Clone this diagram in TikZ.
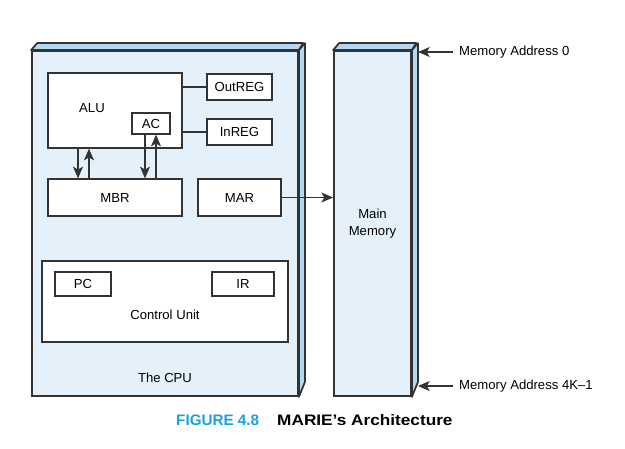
\documentclass[tikz,border=0pt]{standalone}
\usepackage{fontspec}
\setmainfont{Liberation Sans}
\usepackage{xcolor}
\usepackage{graphicx}
\usetikzlibrary{arrows.meta, positioning}

\definecolor{faceblue}{HTML}{E4F1FB}
\definecolor{sideblue}{HTML}{B3D8F3}
\definecolor{edgegray}{HTML}{333333}
\definecolor{figblue}{HTML}{1BA1E2}

\tikzset{
  reg/.style={draw=edgegray, line width=1.1pt, fill=white, inner sep=0pt},
  shell/.style={draw=edgegray, line width=1.5pt, fill=faceblue, inner sep=0pt},
  side/.style={draw=edgegray, line width=1.5pt, fill=sideblue, line join=round},
  wire/.style={draw=edgegray, line width=1.1pt},
  arr/.style={wire, -{Stealth[length=10pt, width=8.5pt, inset=2.5pt]}},
  lbl/.style={inner sep=0pt, font=\fontsize{11.2}{13}\selectfont},
}

\begin{document}
\begin{tikzpicture}[x=0.03cm, y=-0.03cm, lbl]
    \useasboundingbox (0,0) rectangle (625,448);

    % The CPU shell
    \node[shell, minimum width=7.98cm, minimum height=10.35cm] (cpu) at (165,223.5) {};
    \draw[side] (cpu.north west) -- ++(6,-7) -- ++(266,0) -- (cpu.north east) -- cycle;
    \draw[side] (cpu.north east) -- ++(6,-7) -- ++(0,339) -- (cpu.south east) -- cycle;
    \node (cpulbl) at (165,378) {The CPU};

    % Main memory shell
    \node[shell, minimum width=2.31cm, minimum height=10.35cm, align=center] (mem) at (372.5,223.5) {Main\\[1pt]Memory};
    \draw[side] (mem.north west) -- ++(6,-7) -- ++(77,0) -- (mem.north east) -- cycle;
    \draw[side] (mem.north east) -- ++(6,-7) -- ++(0,339) -- (mem.south east) -- cycle;

    % Registers and ALU
    \node[reg, minimum width=4.02cm, minimum height=2.25cm] (alu) at (115,110.5) {};
    \node (alulbl) at (92,108) {ALU};
    \node[reg, minimum width=1.14cm, minimum height=0.63cm] (ac) at (151,123.5) {AC};
    \node[reg, minimum width=1.95cm, minimum height=0.78cm] (outreg) at (239.5,87) {OutREG};
    \node[reg, minimum width=1.95cm, minimum height=0.78cm] (inreg) at (239.5,132) {InREG};
    \node[reg, minimum width=4.02cm, minimum height=1.11cm] (mbr) at (115,197.5) {MBR};
    \node[reg, minimum width=2.49cm, minimum height=1.11cm] (mar) at (239.5,197.5) {MAR};

    % Control unit
    \node[reg, minimum width=7.38cm, minimum height=2.43cm] (cu) at (165,301.5) {};
    \node (culbl) at (165,315) {Control Unit};
    \node[reg, minimum width=1.68cm, minimum height=0.72cm] (pc) at (83,284) {PC};
    \node[reg, minimum width=1.86cm, minimum height=0.72cm] (ir) at (243,284) {IR};

    % Connections
    \draw[wire] (alu.east |- outreg) -- (outreg.west);
    \draw[wire] (alu.east |- inreg) -- (inreg.west);
    \draw[arr] (alu.south -| 78,0) -- (mbr.north -| 78,0);
    \draw[arr] (mbr.north -| 89,0) -- (alu.south -| 89,0);
    \draw[arr] (ac.south -| 145,0) -- (mbr.north -| 145,0);
    \draw[arr] (mbr.north -| 156,0) -- (ac.south -| 156,0);
    \draw[arr] (mar.east) -- (mem.west |- mar.east);

    % Memory addresses
    \coordinate (top0) at (418,52);
    \coordinate (bot0) at (418,386);
    \node[anchor=west] (addr0) at (459,52) {Memory Address 0};
    \node[anchor=west] (addrn) at (459,386) {Memory Address 4K\textendash1};
    \draw[arr] ([xshift=-0.18cm]addr0.west) -- (top0);
    \draw[arr] ([xshift=-0.18cm]addrn.west) -- (bot0);

    % Caption
    \node[anchor=west, font=\fontsize{13}{15}\selectfont\bfseries, text=figblue] (fignum) at (176,420) {FIGURE 4.8};
    \node[anchor=west, font=\fontsize{13}{15}\selectfont\bfseries] (figtitle) at (277,420) {\scalebox{1.13}[1]{MARIE’s Architecture}};
\end{tikzpicture}
\end{document}
